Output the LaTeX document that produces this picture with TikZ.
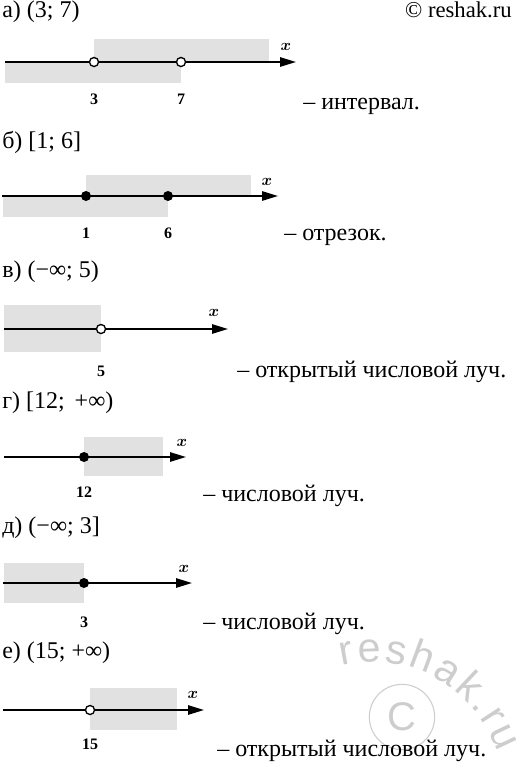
\documentclass[tikz,border=0pt]{standalone}
\usepackage{fontspec}
\setmainfont{Liberation Serif}
\setsansfont{Liberation Sans}
\usepackage{tikz}
\usetikzlibrary{arrows.meta, positioning, decorations.text}
\definecolor{bandgray}{RGB}{225, 225, 225}
\definecolor{markgray}{RGB}{205, 205, 205}

\tikzset{
  axis/.style={line width=1.3pt, -{Triangle[length=12pt, width=7pt]}},
  band/.style={fill=bandgray},
  openpt/.style={circle, draw, line width=1pt, fill=white, inner sep=0pt, minimum size=6.8pt},
  fullpt/.style={circle, fill=black, inner sep=0pt, minimum size=7.5pt},
  tick/.style={inner sep=0pt, font=\fontsize{12}{13}\selectfont\bfseries},
  xlab/.style={inner sep=0pt, font=\fontsize{12}{13}\selectfont\boldmath},
  item/.style={anchor=west, inner sep=0pt, font=\fontsize{18}{20}\selectfont},
}

\begin{document}
\begin{tikzpicture}[x=0.75pt, y=-0.75pt]
  \useasboundingbox (0,0) rectangle (515,764);

  % watermark
  \node[circle, draw=markgray, line width=0.8pt, minimum size=49pt, inner sep=0pt,
    font=\fontsize{30}{30}\selectfont\sffamily, text=markgray] (wmark) at (402,717) {C};
  \path[decorate, decoration={text along path, text align={fit to path},
    text color=markgray, text={|\fontsize{31}{31}\selectfont\sffamily|reshak.ru}}]
    (342,666) .. controls (420,648) and (476,695) .. (498,752);
  \node[anchor=east, inner sep=0pt, font=\fontsize{17}{19}\selectfont] (site) at (512,10) {© reshak.ru};

  % a) interval
  \node[item] (la) at (2,12) {а) (3; 7)};
  \fill[band] (94,39) rectangle (269,62);
  \fill[band] (5,62) rectangle (181,83);
  \coordinate (aS) at (5,62);
  \coordinate (aE) at (296,62);
  \draw[axis] (aS) -- (aE);
  \node[openpt] (a3) at (94,62) {};
  \node[openpt] (a7) at (181,62) {};
  \node[tick] (ta3) at (94,99) {3};
  \node[tick] (ta7) at (181,99) {7};
  \node[xlab] (xa) at (286,47) {$x$};
  \node[item] (ra) at (303,106) {– интервал.};

  % b) segment
  \node[item] (lb) at (2,142) {б) [1; 6]};
  \fill[band] (86,175) rectangle (251,196);
  \fill[band] (3,196) rectangle (168,217);
  \coordinate (bS) at (2,196);
  \coordinate (bE) at (278,196);
  \draw[axis] (bS) -- (bE);
  \node[fullpt] (b1) at (86,196) {};
  \node[fullpt] (b6) at (168,196) {};
  \node[tick] (tb1) at (86,233) {1};
  \node[tick] (tb6) at (168,233) {6};
  \node[xlab] (xb) at (267,182) {$x$};
  \node[item] (rb) at (284,237) {– отрезок.};

  % c) open ray to the left
  \node[item] (lc) at (2,272) {в) (−∞; 5)};
  \fill[band] (4,305) rectangle (101,352);
  \coordinate (cS) at (4,329);
  \coordinate (cE) at (228,329);
  \draw[axis] (cS) -- (cE);
  \node[openpt] (c5) at (101,329) {};
  \node[tick] (tc5) at (101,371) {5};
  \node[xlab] (xc) at (214,313) {$x$};
  \node[item] (rc) at (237,372) {– открытый числовой луч.};

  % d) ray to the right
  \node[item] (ld) at (2,403) {г) [12;\, +∞)};
  \fill[band] (84,437) rectangle (163,476);
  \coordinate (dS) at (4,457);
  \coordinate (dE) at (186,457);
  \draw[axis] (dS) -- (dE);
  \node[fullpt] (d12) at (84,457) {};
  \node[tick] (td12) at (84,492) {12};
  \node[xlab] (xd) at (182,443) {$x$};
  \node[item] (rd) at (203,496) {– числовой луч.};

  % e) ray to the left
  \node[item] (le) at (2,528) {д) (−∞; 3]};
  \fill[band] (4,563) rectangle (84,603);
  \coordinate (eS) at (3,583);
  \coordinate (eE) at (192,583);
  \draw[axis] (eS) -- (eE);
  \node[fullpt] (e3) at (84,583) {};
  \node[tick] (te3) at (84,622) {3};
  \node[xlab] (xe) at (184,569) {$x$};
  \node[item] (re) at (203,624) {– числовой луч.};

  % f) open ray to the right
  \node[item] (lf) at (2,653) {е) (15; +∞)};
  \fill[band] (90,688) rectangle (177,730);
  \coordinate (fS) at (3,710);
  \coordinate (fE) at (204,710);
  \draw[axis] (fS) -- (fE);
  \node[openpt] (f15) at (90,710) {};
  \node[tick] (tf15) at (90,744) {15};
  \node[xlab] (xf) at (193,695) {$x$};
  \node[item] (rf) at (217,751) {– открытый числовой луч.};
\end{tikzpicture}
\end{document}
